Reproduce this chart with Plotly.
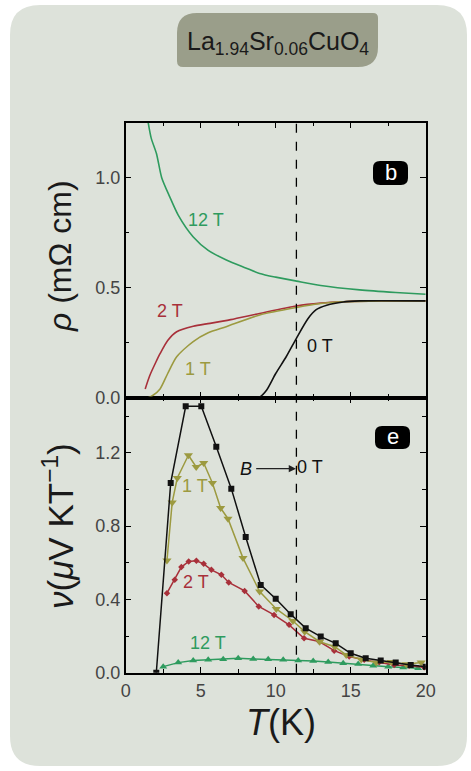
import plotly.graph_objects as go

W, H = 471, 771

# ---------------- data ----------------
# panel (b): resistivity vs T
T_12T_rho = [1.45, 1.7, 2.05, 2.4, 2.93, 3.5, 4.49, 5.5, 6.71, 8.0, 8.93, 10.0, 11.38, 13.0, 15.6, 18.0, 20.0]
rho_12T = [1.27, 1.18, 1.11, 1.0, 0.914, 0.83, 0.732, 0.67, 0.626, 0.59, 0.565, 0.548, 0.53, 0.51, 0.49, 0.478, 0.47]

T_2T_rho = [1.3, 1.6, 2.0, 2.29, 2.8, 3.4, 4.5, 5.62, 7.0, 8.93, 11.38, 13.0, 14.49, 17.0, 20.0]
rho_2T = [0.04, 0.10, 0.16, 0.20, 0.26, 0.30, 0.325, 0.338, 0.355, 0.383, 0.417, 0.43, 0.436, 0.44, 0.44]

T_1T_rho = [1.5, 1.8, 2.29, 2.8, 3.4, 4.5, 5.5, 6.7, 8.93, 11.38, 13.0, 14.49, 17.0, 20.0]
rho_1T = [0.0, 0.01, 0.04, 0.11, 0.186, 0.255, 0.295, 0.323, 0.376, 0.41, 0.428, 0.436, 0.44, 0.44]

T_0T_rho = [2.4, 4.0, 6.0, 8.0, 8.93, 9.4, 10.0, 10.7, 11.38, 12.16, 12.7, 13.4, 14.5, 15.6, 20.0]
rho_0T = [0.0, 0.0, 0.0, 0.0, 0.003, 0.035, 0.11, 0.186, 0.27, 0.36, 0.40, 0.42, 0.435, 0.44, 0.44]

# panel (e): Nernst coefficient vs T
T_0T_nu = [2.04, 3.0, 4.0, 5.04, 6.04, 7.04, 8.0, 9.0, 10.0, 11.0, 12.0, 13.0, 14.0, 15.0, 16.0, 17.0, 18.0, 19.0, 20.0]
nu_0T = [0.0, 1.035, 1.453, 1.453, 1.232, 1.004, 0.74, 0.479, 0.403, 0.319, 0.243, 0.197, 0.16, 0.106, 0.079, 0.066, 0.055, 0.042, 0.033]

T_1T_nu = [2.75, 3.1, 3.44, 4.18, 4.7, 5.2, 5.78, 6.33, 6.82, 7.82, 8.93, 10.04, 11.15, 11.93, 12.93, 13.93, 14.7, 15.7, 16.7, 17.7, 18.7, 19.7]
nu_1T = [0.612, 0.929, 1.062, 1.186, 1.122, 1.144, 1.035, 0.898, 0.84, 0.625, 0.443, 0.348, 0.282, 0.224, 0.169, 0.142, 0.097, 0.072, 0.055, 0.058, 0.046, 0.055]

T_2T_nu = [2.75, 3.27, 3.71, 4.2, 4.71, 5.2, 5.71, 6.38, 6.87, 7.93, 8.87, 9.89, 10.89, 11.89, 12.9, 13.9, 14.9, 15.9, 16.9, 17.9, 18.9, 19.9]
nu_2T = [0.434, 0.507, 0.576, 0.607, 0.61, 0.594, 0.561, 0.534, 0.492, 0.446, 0.361, 0.315, 0.261, 0.188, 0.17, 0.12, 0.088, 0.07, 0.057, 0.042, 0.038, 0.03]

T_12T_nu = [2.5, 3.5, 4.5, 5.5, 6.5, 7.5, 8.5, 9.5, 10.5, 11.5, 12.5, 13.5, 14.5, 15.5, 16.5, 17.5, 18.5, 19.5]
nu_12T = [0.033, 0.055, 0.066, 0.07, 0.073, 0.079, 0.075, 0.073, 0.07, 0.066, 0.064, 0.058, 0.051, 0.047, 0.038, 0.033, 0.029, 0.024]

T_dashed = 11.38
x_ticks = [0, 5, 10, 15, 20]
rho_ticks = [0.0, 0.5, 1.0]
nu_ticks = [0.0, 0.4, 0.8, 1.2]

# ---------------- styling ----------------
C0, C1, C2, C12 = "#111111", "#9c9a40", "#a8303a", "#2e9b5e"
BG = "#dde2da"
FONT = "Liberation Sans, Arial, sans-serif"


def px(x):
    return x / W


def py(y):
    return 1 - y / H


def rrect(x0, y0, x1, y1, rtl, rtr, rbr, rbl):
    p = []
    p.append(f"M{px(x0 + rtl)},{py(y0)}")
    p.append(f"L{px(x1 - rtr)},{py(y0)}")
    p.append(f"Q{px(x1)},{py(y0)} {px(x1)},{py(y0 + rtr)}")
    p.append(f"L{px(x1)},{py(y1 - rbr)}")
    p.append(f"Q{px(x1)},{py(y1)} {px(x1 - rbr)},{py(y1)}")
    p.append(f"L{px(x0 + rbl)},{py(y1)}")
    p.append(f"Q{px(x0)},{py(y1)} {px(x0)},{py(y1 - rbl)}")
    p.append(f"L{px(x0)},{py(y0 + rtl)}")
    p.append(f"Q{px(x0)},{py(y0)} {px(x0 + rtl)},{py(y0)}")
    p.append("Z")
    return " ".join(p)


fig = go.Figure()

# top panel curves
for T, r, c in [(T_12T_rho, rho_12T, C12), (T_2T_rho, rho_2T, C2), (T_1T_rho, rho_1T, C1), (T_0T_rho, rho_0T, C0)]:
    fig.add_trace(go.Scatter(x=T, y=r, xaxis="x2", yaxis="y2", mode="lines",
                             line=dict(color=c, width=1.6, shape="spline", smoothing=0.7),
                             showlegend=False, hoverinfo="skip"))

# bottom panel curves
fig.add_trace(go.Scatter(x=T_12T_nu, y=nu_12T, mode="lines+markers",
                         line=dict(color=C12, width=1.5),
                         marker=dict(symbol="triangle-up", size=7, color=C12), showlegend=False))
fig.add_trace(go.Scatter(x=T_2T_nu, y=nu_2T, mode="lines+markers",
                         line=dict(color=C2, width=1.5),
                         marker=dict(symbol="diamond", size=5, color=C2), showlegend=False))
fig.add_trace(go.Scatter(x=T_1T_nu, y=nu_1T, mode="lines+markers",
                         line=dict(color=C1, width=1.5),
                         marker=dict(symbol="triangle-down", size=8, color=C1), showlegend=False))
fig.add_trace(go.Scatter(x=T_0T_nu, y=nu_0T, mode="lines+markers",
                         line=dict(color=C0, width=1.5),
                         marker=dict(symbol="square", size=6, color=C0), showlegend=False))

xdom = [px(125.7), px(425.7)]
top_dom = [py(397.7), py(122.7)]
bot_dom = [py(672.7), py(397.7)]

axis_common = dict(showline=True, linecolor="black", linewidth=1.5, mirror="allticks",
                   ticks="inside", ticklen=6, tickwidth=1.2, tickcolor="black",
                   showgrid=False, zeroline=False, automargin=False,
                   tickfont=dict(family=FONT, size=18, color="#444"))

fig.update_layout(
    width=W, height=H,
    margin=dict(l=0, r=0, t=0, b=0),
    paper_bgcolor="white", plot_bgcolor="rgba(0,0,0,0)",
    xaxis=dict(domain=xdom, range=[0, 20], anchor="y", tickvals=x_ticks,
               minor=dict(dtick=2.5, ticks="inside", ticklen=3.5, tickcolor="black"),
               ticklabelstandoff=1, **axis_common),
    yaxis=dict(domain=bot_dom, range=[0, 1.5], anchor="x", tickvals=nu_ticks,
               ticktext=[f"{v:.1f}" for v in nu_ticks],
               minor=dict(dtick=0.2, ticks="inside", ticklen=3.5, tickcolor="black"),
               **axis_common),
    xaxis2=dict(domain=xdom, range=[0, 20], anchor="y2", matches="x", tickvals=x_ticks,
                showticklabels=False,
                minor=dict(dtick=2.5, ticks="inside", ticklen=3.5, tickcolor="black"),
                **axis_common),
    yaxis2=dict(domain=top_dom, range=[0, 1.25], anchor="x2", tickvals=rho_ticks,
                ticktext=[f"{v:.1f}" for v in rho_ticks],
                minor=dict(dtick=0.25, ticks="inside", ticklen=3.5, tickcolor="black"),
                **axis_common),
)

shapes = [
    dict(type="path", path=rrect(10, 5, 467, 766, 30, 30, 30, 30), xref="paper", yref="paper",
         fillcolor=BG, line=dict(width=0), layer="below"),
    dict(type="path", path=rrect(177, 13, 378, 67, 20, 5, 20, 6), xref="paper", yref="paper",
         fillcolor="#9a9e8a", line=dict(width=0), layer="below"),
    dict(type="line", xref="x", yref="paper", x0=T_dashed, x1=T_dashed, y0=bot_dom[0], y1=top_dom[1],
         line=dict(color="black", width=1.3, dash="dash")),
    dict(type="line", xref="paper", yref="paper", x0=xdom[0], x1=xdom[1], y0=py(397.7), y1=py(397.7),
         line=dict(color="black", width=2.5)),
    dict(type="path", path=rrect(373, 161, 408, 185, 7, 7, 7, 7), xref="paper", yref="paper",
         fillcolor="black", line=dict(width=0)),
    dict(type="path", path=rrect(375, 426, 410, 449, 7, 7, 7, 7), xref="paper", yref="paper",
         fillcolor="black", line=dict(width=0)),
]
fig.update_layout(shapes=shapes)

ann = []


def txt(text, x, y, color, size=18, xref="x", yref="y", **kw):
    ann.append(dict(text=text, x=x, y=y, xref=xref, yref=yref, showarrow=False,
                    xanchor="center", yanchor="middle",
                    font=dict(family=FONT, size=size, color=color), **kw))


# title
txt("La<sub>1.94</sub>Sr<sub>0.06</sub>CuO<sub>4</sub>", px(278), py(43), "#1a1a1a", size=25,
    xref="paper", yref="paper")
# panel letters
txt("b", px(390.5), py(172), "white", size=22, xref="paper", yref="paper")
txt("e", px(392.5), py(436), "white", size=22, xref="paper", yref="paper")
# axis titles
txt("<i>ρ</i> (mΩ cm)", px(60), py(256), "#1a1a1a", size=32, xref="paper", yref="paper", textangle=-90)
txt("<i>ν</i>(<i>μ</i>V KT<sup>−1</sup>)", px(58), py(526), "#1a1a1a", size=35, xref="paper", yref="paper",
    textangle=-90)
txt("<i>T</i>(K)", px(281), py(722), "#1a1a1a", size=36, xref="paper", yref="paper")
# curve labels, top panel
txt("12 T", 5.38, 0.81, C12, xref="x2", yref="y2")
txt("2 T", 2.93, 0.395, C2, xref="x2", yref="y2")
txt("1 T", 4.82, 0.129, C1, xref="x2", yref="y2")
txt("0 T", 12.93, 0.235, C0, xref="x2", yref="y2")
# curve labels, bottom panel
txt("1 T", 4.6, 1.02, C1)
txt("2 T", 4.71, 0.497, C2)
txt("12 T", 5.49, 0.16, C12)
txt("<i>B</i>", 8.0, 1.113, C0)
txt("0 T", 12.27, 1.124, C0)
ann.append(dict(x=11.35, y=1.113, ax=8.6, ay=1.113, xref="x", yref="y", axref="x", ayref="y",
                text="", showarrow=True, arrowhead=2, arrowsize=1.2, arrowwidth=1.2, arrowcolor="#222"))
fig.update_layout(annotations=ann)

fig.write_html("out.html", config={"displayModeBar": False},
               post_script="document.body.style.margin='0';document.body.style.overflow='hidden';")
